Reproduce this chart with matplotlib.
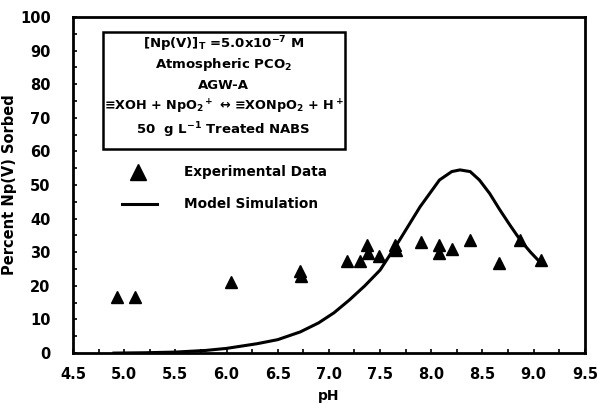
import matplotlib
matplotlib.use("Agg")
import matplotlib.pyplot as plt
from matplotlib.ticker import MultipleLocator
from matplotlib.patches import Rectangle

plt.rcParams['font.family'] = ['DejaVu Sans']
plt.rcParams['font.weight'] = 'bold'
plt.rcParams['mathtext.default'] = 'bf'

exp_ph = [4.93, 5.11, 6.04, 6.72, 6.73, 7.18, 7.30, 7.37, 7.38, 7.49, 7.65, 7.66,
          7.90, 8.08, 8.08, 8.20, 8.38, 8.66, 8.87, 9.07]
exp_pct = [16.6, 16.6, 21.2, 24.4, 22.8, 27.4, 27.4, 32.3, 29.9, 28.9, 32.3, 30.6,
           33.0, 32.3, 29.9, 31.1, 33.6, 26.7, 33.6, 27.7]

model_ph = [4.9, 5.2, 5.5, 5.8, 6.0, 6.3, 6.5, 6.72, 6.9, 7.05, 7.2, 7.35, 7.5, 7.69,
            7.89, 8.08, 8.2, 8.28, 8.38, 8.47, 8.57, 8.67, 8.77, 8.87, 8.97, 9.07]
model_pct = [0.0, 0.1, 0.3, 0.8, 1.4, 2.8, 4.0, 6.3, 9.0, 12.0, 15.8, 20.0, 24.7, 33.6,
             43.5, 51.5, 54.0, 54.5, 54.0, 51.5, 47.5, 42.6, 38.0, 33.6, 30.0, 26.8]

xticks = [4.5, 5.0, 5.5, 6.0, 6.5, 7.0, 7.5, 8.0, 8.5, 9.0, 9.5]
yticks = [0, 10, 20, 30, 40, 50, 60, 70, 80, 90, 100]

fig = plt.figure(figsize=(5.98, 4.04), dpi=100)
ax = fig.add_axes([0.122, 0.126, 0.856, 0.832])

ax.plot(model_ph, model_pct, color='black', lw=2.2, zorder=2)
ax.plot(exp_ph, exp_pct, linestyle='none', marker='^', color='black', ms=9, zorder=3)

ax.set_xlim(4.5, 9.5)
ax.set_ylim(0, 100)
ax.set_xticks(xticks)
ax.set_xticklabels([f"{t:.1f}" for t in xticks])
ax.set_yticks(yticks)
ax.set_yticklabels([str(t) for t in yticks])
ax.xaxis.set_minor_locator(MultipleLocator(0.25))
ax.yaxis.set_minor_locator(MultipleLocator(5))
ax.tick_params(which='both', direction='in', length=3, width=1.2, labelsize=10.5)
ax.tick_params(axis='x', which='major', pad=10)
ax.tick_params(axis='y', which='major', pad=16)
for lab in ax.get_xticklabels() + ax.get_yticklabels():
    lab.set_fontweight('bold')
for s in ax.spines.values():
    s.set_linewidth(2)

ax.set_xlabel('pH', fontsize=10, fontweight='bold')
ax.xaxis.set_label_coords(0.5, -0.106)
ax.set_ylabel('Percent Np(V) Sorbed', fontsize=10.5, fontweight='bold', labelpad=2)

# annotation box
ax.add_patch(Rectangle((4.79, 60.7), 2.37, 34.8, fill=False, lw=1.8,
                       edgecolor='black', zorder=4))
cx = 5.97
lines = [
    (91.8, r"[Np(V)]$_\mathrm{T}$ =5.0x10$^{-7}$ M", 9.5),
    (85.8, r"Atmospheric P$\mathrm{CO}_2$", 9.5),
    (79.6, "AGW-A", 9.5),
    (73.2, r"≡XOH + NpO$_2$$^+$ ↔ ≡XONpO$_2$ + H$^+$", 9.2),
    (66.2, r"50  g L$^{-1}$ Treated NABS", 9.5),
]
for y, t, fs in lines:
    ax.text(cx, y, t, ha='center', va='center', fontsize=fs, fontweight='bold')

# legend-like entries
ax.plot([5.14], [54.0], marker='^', color='black', ms=12, linestyle='none')
ax.text(5.58, 54.0, "Experimental Data", ha='left', va='center', fontsize=9.8, fontweight='bold')
ax.plot([4.98, 5.32], [44.5, 44.5], color='black', lw=2.2)
ax.text(5.58, 44.5, "Model Simulation", ha='left', va='center', fontsize=9.8, fontweight='bold')

fig.savefig("out.png", dpi=100)
